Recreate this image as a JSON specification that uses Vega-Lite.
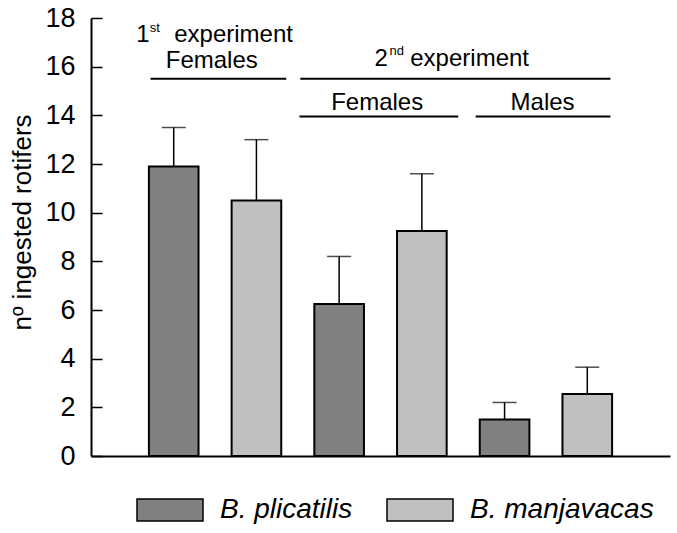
{
  "$schema": "https://vega.github.io/schema/vega-lite/v6.json",
  "width": 579,
  "height": 438,
  "autosize": {"type": "none"},
  "padding": {"left": 91, "top": 18, "right": 7, "bottom": 77},
  "background": "white",
  "config": {
    "view": {"stroke": null},
    "font": "Liberation Sans",
    "axis": {"grid": false},
    "text": {"font": "Liberation Sans", "color": "black"}
  },
  "datasets": {
    "bars": [
      {"group": "1st Females", "species": "B. plicatilis", "mean": 11.9, "upper": 13.5},
      {"group": "1st Females", "species": "B. manjavacas", "mean": 10.5, "upper": 13.0},
      {"group": "2nd Females", "species": "B. plicatilis", "mean": 6.25, "upper": 8.2},
      {"group": "2nd Females", "species": "B. manjavacas", "mean": 9.25, "upper": 11.6},
      {"group": "2nd Males", "species": "B. plicatilis", "mean": 1.5, "upper": 2.2},
      {"group": "2nd Males", "species": "B. manjavacas", "mean": 2.55, "upper": 3.65}
    ]
  },
  "layer": [
    {
      "data": {"name": "bars"},
      "mark": {"type": "rule", "color": "black", "strokeWidth": 1.5},
      "encoding": {
        "x": {"field": "group", "type": "nominal"},
        "xOffset": {"field": "species", "type": "nominal"},
        "y": {"field": "mean", "type": "quantitative"},
        "y2": {"field": "upper"}
      }
    },
    {
      "data": {"name": "bars"},
      "mark": {"type": "tick", "color": "black", "size": 24, "thickness": 1.5, "orient": "horizontal"},
      "encoding": {
        "x": {"field": "group", "type": "nominal"},
        "xOffset": {"field": "species", "type": "nominal"},
        "y": {"field": "upper", "type": "quantitative"}
      }
    },
    {
      "data": {"name": "bars"},
      "mark": {"type": "bar", "stroke": "black", "strokeWidth": 2, "opacity": 1},
      "encoding": {
        "x": {
          "field": "group",
          "type": "nominal",
          "scale": {"paddingInner": 0, "paddingOuter": 0.25},
          "axis": {"domain": true, "domainColor": "black", "domainWidth": 2, "ticks": false, "labels": false, "title": null}
        },
        "xOffset": {
          "field": "species",
          "type": "nominal",
          "scale": {"domain": ["B. plicatilis", "B. manjavacas"], "paddingInner": 0.4, "paddingOuter": 0.2}
        },
        "y": {
          "field": "mean",
          "type": "quantitative",
          "scale": {"domain": [0, 18], "nice": false},
          "axis": {
            "values": [0, 2, 4, 6, 8, 10, 12, 14, 16, 18],
            "tickSize": -11,
            "tickWidth": 1.5,
            "tickColor": "black",
            "domainColor": "black",
            "domainWidth": 2,
            "labelPadding": 27,
            "labelFontSize": 27,
            "labelColor": "black",
            "labelFont": "Liberation Sans",
            "title": "nº ingested rotifers",
            "titleFont": "Liberation Sans",
            "titleFontSize": 26,
            "titleFontWeight": "normal",
            "titleColor": "black",
            "titleX": -61,
            "titleY": 204,
            "titleAngle": 270,
            "titleBaseline": "alphabetic",
            "titleAlign": "center"
          }
        },
        "color": {
          "field": "species",
          "type": "nominal",
          "scale": {"domain": ["B. plicatilis", "B. manjavacas"], "range": ["#808080", "#c0c0c0"]},
          "legend": {
            "orient": "none",
            "legendX": 45,
            "legendY": 458,
            "direction": "horizontal",
            "title": null,
            "symbolType": "M-1,-0.333L1,-0.333L1,0.333L-1,0.333Z",
            "symbolSize": 4356,
            "symbolStrokeColor": "black",
            "symbolStrokeWidth": 1.5,
            "symbolOpacity": 1,
            "labelFontSize": 28,
            "labelFontStyle": "italic",
            "labelFont": "Liberation Sans",
            "labelColor": "black",
            "labelOffset": 16,
            "labelLimit": 400,
            "columnPadding": 31,
            "padding": 0
          }
        }
      }
    },
    {
      "data": {"values": [{"from": "1st Females", "to": "1st Females", "y": 15.5}]},
      "mark": {"type": "rule", "color": "black", "strokeWidth": 2},
      "encoding": {
        "x": {"field": "from", "type": "nominal", "bandPosition": 0.11},
        "x2": {"field": "to", "bandPosition": 0.93},
        "y": {"field": "y", "type": "quantitative"}
      }
    },
    {
      "data": {"values": [{"from": "2nd Females", "to": "2nd Males", "y": 15.5}]},
      "mark": {"type": "rule", "color": "black", "strokeWidth": 2},
      "encoding": {
        "x": {"field": "from", "type": "nominal", "bandPosition": 0.015},
        "x2": {"field": "to", "bandPosition": 0.89},
        "y": {"field": "y", "type": "quantitative"}
      }
    },
    {
      "data": {"values": [{"from": "2nd Females", "to": "2nd Females", "y": 13.95}]},
      "mark": {"type": "rule", "color": "black", "strokeWidth": 2},
      "encoding": {
        "x": {"field": "from", "type": "nominal", "bandPosition": 0.01},
        "x2": {"field": "to", "bandPosition": 0.97},
        "y": {"field": "y", "type": "quantitative"}
      }
    },
    {
      "data": {"values": [{"from": "2nd Males", "to": "2nd Males", "y": 13.95}]},
      "mark": {"type": "rule", "color": "black", "strokeWidth": 2},
      "encoding": {
        "x": {"field": "from", "type": "nominal", "bandPosition": 0.075},
        "x2": {"field": "to", "bandPosition": 0.89},
        "y": {"field": "y", "type": "quantitative"}
      }
    },
    {
      "data": {"values": [
        {"group": "1st Females", "label": "Females", "y": 15.93},
        {"group": "2nd Females", "label": "Females", "y": 14.22},
        {"group": "2nd Males", "label": "Males", "y": 14.22}
      ]},
      "mark": {"type": "text", "align": "center", "baseline": "alphabetic", "fontSize": 24},
      "encoding": {
        "x": {"field": "group", "type": "nominal", "bandPosition": 0.48},
        "y": {"field": "y", "type": "quantitative"},
        "text": {"field": "label"}
      }
    },
    {
      "data": {"values": [{"group": "1st Females", "label": "1", "y": 17.0}]},
      "mark": {"type": "text", "align": "left", "baseline": "alphabetic", "fontSize": 24},
      "encoding": {
        "x": {"field": "group", "type": "nominal", "bandPosition": 0.023},
        "y": {"field": "y", "type": "quantitative"},
        "text": {"field": "label"}
      }
    },
    {
      "data": {"values": [{"group": "1st Females", "label": "st", "y": 17.44}]},
      "mark": {"type": "text", "align": "left", "baseline": "alphabetic", "fontSize": 13},
      "encoding": {
        "x": {"field": "group", "type": "nominal", "bandPosition": 0.105},
        "y": {"field": "y", "type": "quantitative"},
        "text": {"field": "label"}
      }
    },
    {
      "data": {"values": [{"group": "1st Females", "label": "experiment", "y": 17.0}]},
      "mark": {"type": "text", "align": "left", "baseline": "alphabetic", "fontSize": 24},
      "encoding": {
        "x": {"field": "group", "type": "nominal", "bandPosition": 0.253},
        "y": {"field": "y", "type": "quantitative"},
        "text": {"field": "label"}
      }
    },
    {
      "data": {"values": [{"group": "2nd Females", "label": "2", "y": 16.04}]},
      "mark": {"type": "text", "align": "left", "baseline": "alphabetic", "fontSize": 24},
      "encoding": {
        "x": {"field": "group", "type": "nominal", "bandPosition": 0.464},
        "y": {"field": "y", "type": "quantitative"},
        "text": {"field": "label"}
      }
    },
    {
      "data": {"values": [{"group": "2nd Females", "label": "nd", "y": 16.48}]},
      "mark": {"type": "text", "align": "left", "baseline": "alphabetic", "fontSize": 13},
      "encoding": {
        "x": {"field": "group", "type": "nominal", "bandPosition": 0.555},
        "y": {"field": "y", "type": "quantitative"},
        "text": {"field": "label"}
      }
    },
    {
      "data": {"values": [{"group": "2nd Females", "label": "experiment", "y": 16.04}]},
      "mark": {"type": "text", "align": "left", "baseline": "alphabetic", "fontSize": 24},
      "encoding": {
        "x": {"field": "group", "type": "nominal", "bandPosition": 0.68},
        "y": {"field": "y", "type": "quantitative"},
        "text": {"field": "label"}
      }
    }
  ]
}
